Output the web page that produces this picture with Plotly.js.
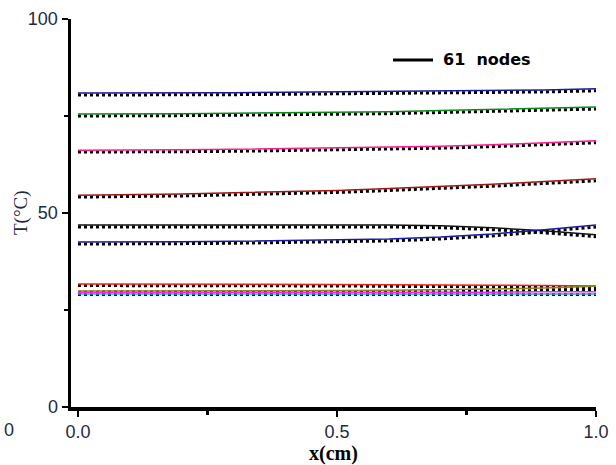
<!DOCTYPE html>
<html>
<head>
<meta charset="utf-8">
<script src="https://cdn.plot.ly/plotly-3.0.1.min.js"></script>
<style>html,body{margin:0;padding:0;background:#fff;}#chart{width:616px;height:465px;}</style>
</head>
<body>
<div id="chart"></div>
<script>
// x positions (cm)
const xPos = [0, 0.1, 0.2, 0.3, 0.4, 0.5, 0.6, 0.7, 0.8, 0.9, 1.0];

// 61 nodes solution (coloured lines), T in °C
const tBlueTop  = [80.9, 80.9, 81.0, 81.0, 81.1, 81.2, 81.3, 81.4, 81.5, 81.7, 82.0];
const tGreen    = [75.5, 75.5, 75.6, 75.7, 75.8, 75.9, 76.1, 76.4, 76.7, 77.0, 77.3];
const tPink     = [66.2, 66.2, 66.3, 66.4, 66.6, 66.8, 66.9, 67.2, 67.6, 68.1, 68.6];
const tDarkRed  = [54.6, 54.7, 54.9, 55.2, 55.5, 55.8, 56.3, 56.8, 57.4, 58.1, 58.8];
const tBlack    = [46.9, 46.9, 46.9, 46.9, 46.9, 46.9, 46.9, 46.7, 46.2, 45.4, 44.4];
const tBlueLow  = [42.5, 42.5, 42.6, 42.7, 42.9, 43.0, 43.3, 43.8, 44.6, 45.7, 46.9];
const tRed      = [31.7, 31.7, 31.7, 31.6, 31.6, 31.6, 31.5, 31.5, 31.4, 31.3, 31.2];
const tOlive    = [29.9, 29.9, 29.9, 29.9, 30.0, 30.0, 30.1, 30.2, 30.4, 30.7, 31.1];
const tMagenta  = [29.5, 29.5, 29.5, 29.5, 29.5, 29.5, 29.5, 29.6, 29.6, 29.7, 29.7];
const tCyan     = [29.1, 29.1, 29.1, 29.1, 29.1, 29.1, 29.1, 29.1, 29.1, 29.1, 29.1];

// comparison solution (black dotted lines)
const dBlueTop  = [80.4, 80.4, 80.5, 80.5, 80.6, 80.7, 80.8, 80.9, 81.0, 81.2, 81.5];
const dGreen    = [75.0, 75.0, 75.1, 75.2, 75.3, 75.4, 75.6, 75.9, 76.2, 76.5, 76.8];
const dPink     = [65.7, 65.7, 65.8, 65.9, 66.1, 66.3, 66.4, 66.7, 67.1, 67.6, 68.1];
const dDarkRed  = [54.1, 54.2, 54.4, 54.7, 55.0, 55.3, 55.8, 56.3, 56.9, 57.6, 58.3];
const dBlack    = [46.4, 46.4, 46.4, 46.4, 46.4, 46.4, 46.4, 46.2, 45.7, 44.9, 43.9];
const dBlueLow  = [42.0, 42.0, 42.1, 42.2, 42.4, 42.5, 42.8, 43.3, 44.1, 45.2, 46.4];
const dRed      = [31.3, 31.3, 31.3, 31.2, 31.2, 31.2, 31.1, 31.1, 31.0, 30.9, 30.8];
const dMid      = [29.6, 29.6, 29.6, 29.6, 29.6, 29.6, 29.7, 29.7, 29.8, 30.0, 30.3];
const dLow      = [29.0, 29.0, 29.0, 29.0, 29.0, 29.0, 29.0, 29.0, 29.0, 29.0, 29.0];

const xTickVals = [0, 0.5, 1.0];
const xTickText = ['0.0', '0.5', '1.0'];
const yTickVals = [0, 50, 100];
const yTickText = ['0', '50', '100'];
const legendLabel = '61  nodes';

const solid = [
  [tBlueTop, '#1a1aa0'], [tGreen, '#0a8a1a'], [tPink, '#ff1a8c'],
  [tDarkRed, '#a01818'], [tBlack, '#111111'], [tBlueLow, '#1a1aa0'],
  [tRed, '#ff1a1a'], [tOlive, '#8a8a10'], [tMagenta, '#ff20ff'], [tCyan, '#10b8c8']
];
const dotted = [dBlueTop, dGreen, dPink, dDarkRed, dBlack, dBlueLow, dRed, dMid, dLow];

const traces = [];
dotted.forEach(d => traces.push({
  x: xPos, y: d, mode: 'lines', showlegend: false, hoverinfo: 'skip',
  line: {color: '#000', width: 3, dash: 'dot'}
}));
solid.forEach(s => traces.push({
  x: xPos, y: s[0], mode: 'lines', showlegend: false, hoverinfo: 'skip',
  line: {color: s[1], width: 1.5}
}));

const tickColor = '#1f2a44';
const layout = {
  width: 616, height: 465,
  margin: {l: 71, r: 20, t: 19, b: 58},
  paper_bgcolor: '#fff', plot_bgcolor: '#fff',
  showlegend: false,
  xaxis: {
    range: [-0.0135, 1.0], showgrid: false, zeroline: false,
    showline: true, linecolor: '#000', linewidth: 3.5,
    ticks: 'outside', ticklen: 6, tickwidth: 2.5, tickcolor: '#000',
    tickvals: xTickVals, ticktext: xTickText,
    tickfont: {family: 'Liberation Sans, Arial', size: 18, color: tickColor},
    minor: {tickvals: [0.25, 0.75], ticks: 'outside', ticklen: 4, tickwidth: 2.5, tickcolor: '#000'},
    title: {text: 'x(cm)', font: {family: 'Liberation Serif, Times New Roman', size: 20, color: '#000', weight: 'bold'}, standoff: 0}
  },
  yaxis: {
    range: [0, 100], showgrid: false, zeroline: false,
    showline: true, linecolor: '#000', linewidth: 3.5,
    ticks: 'outside', ticklen: 6, tickwidth: 2.5, tickcolor: '#000',
    tickvals: yTickVals, ticktext: yTickText,
    tickfont: {family: 'Liberation Sans, Arial', size: 18, color: tickColor},
    minor: {tickvals: [25, 75], ticks: 'outside', ticklen: 4, tickwidth: 2.5, tickcolor: '#000'}
  },
  shapes: [{
    type: 'line', xref: 'paper', yref: 'paper',
    x0: (393 - 71) / 525, x1: (433 - 71) / 525,
    y0: (407 - 60) / 388, y1: (407 - 60) / 388,
    line: {color: '#000', width: 3}
  }],
  annotations: [
    {xref: 'paper', yref: 'paper', x: (441 - 71) / 525, y: (407 - 60) / 388,
     xanchor: 'left', yanchor: 'middle', showarrow: false, text: legendLabel,
     font: {family: 'DejaVu Sans', size: 16, color: '#000', weight: 'bold'}},
    {xref: 'paper', yref: 'paper', x: (21 - 71) / 525, y: (407 - 213) / 388,
     xanchor: 'center', yanchor: 'middle', showarrow: false, text: 'T(°C)', textangle: -90,
     font: {family: 'Liberation Serif, Times New Roman', size: 19, color: tickColor}},
    {xref: 'paper', yref: 'paper', x: (9 - 71) / 525, y: (407 - 430) / 388,
     xanchor: 'center', yanchor: 'middle', showarrow: false, text: '0',
     font: {family: 'Liberation Sans, Arial', size: 18, color: tickColor}}
  ]
};

Plotly.newPlot('chart', traces, layout, {staticPlot: true, displayModeBar: false});
</script>
</body>
</html>
